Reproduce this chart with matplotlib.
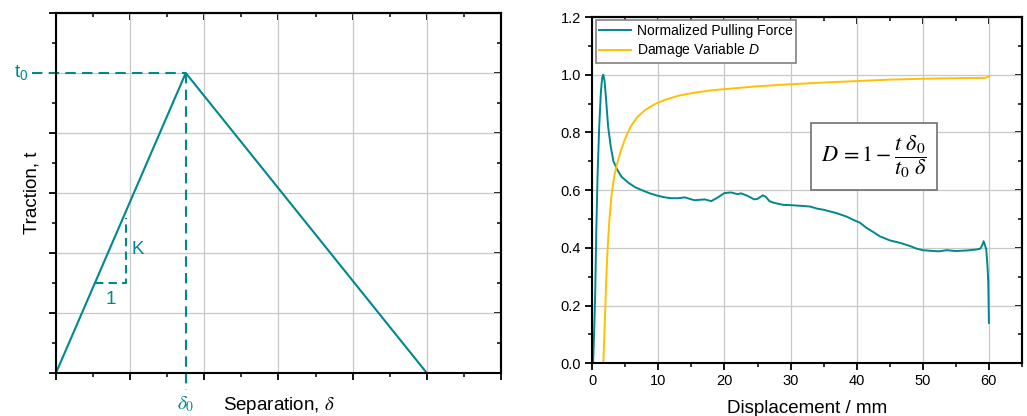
import matplotlib.pyplot as plt
from matplotlib.ticker import MultipleLocator, NullFormatter

plt.rcParams['font.family'] = ['Liberation Sans', 'DejaVu Sans']
plt.rcParams['mathtext.fontset'] = 'custom'
plt.rcParams['mathtext.rm'] = 'Liberation Sans'
plt.rcParams['mathtext.it'] = 'Liberation Sans:italic'

teal = '#00888c'
gold = '#ffc000'
grid_col = '#c8c8c8'

# bilinear traction-separation law (arbitrary units)
law_sep = [0, 1.75, 5]
law_trac = [0, 5, 0]
delta0, t0 = 1.75, 5

# measured normalized pulling force vs displacement (mm)
force_x = [0.12, 0.3, 0.45, 0.6, 0.8, 1.05, 1.3, 1.5, 1.66, 1.85, 2.0, 2.4, 2.8, 3.2,
           3.8, 4.4, 5.5, 6.5, 7.5, 8.7, 10, 11, 12, 13, 14, 15, 15.5, 16.5, 17, 18,
           19, 20, 21, 22, 22.5, 23.5, 24.5, 25, 25.8, 26.2, 26.8, 27.5, 28.9, 30,
           32, 33, 34, 35, 37, 38.5, 39.5, 40.5, 41.5, 42.5, 43.5, 45, 46.6, 48,
           49.1, 50, 51.6, 52.5, 53.6, 55, 56.7, 58, 58.7, 59.0, 59.2, 59.4, 59.6,
           59.8, 59.9, 60]
force_y = [0, 0.12, 0.25, 0.45, 0.65, 0.82, 0.94, 0.99, 1.0, 0.98, 0.94, 0.82, 0.75,
           0.70, 0.67, 0.647, 0.625, 0.61, 0.60, 0.589, 0.58, 0.575, 0.572, 0.572,
           0.575, 0.568, 0.565, 0.567, 0.568, 0.562, 0.575, 0.59, 0.592, 0.586,
           0.589, 0.58, 0.568, 0.57, 0.582, 0.578, 0.562, 0.556, 0.549, 0.548, 0.545,
           0.543, 0.536, 0.532, 0.52, 0.508, 0.497, 0.487, 0.469, 0.455, 0.44, 0.426,
           0.417, 0.407, 0.397, 0.392, 0.389, 0.388, 0.392, 0.389, 0.391, 0.394,
           0.397, 0.41, 0.423, 0.41, 0.394, 0.33, 0.28, 0.14]

# damage variable D vs displacement (mm)
damage_x = [1.67, 1.8, 1.95, 2.1, 2.3, 2.6, 2.9, 3.3, 3.7, 4.3, 5.0, 5.8, 6.8, 8, 9.6,
            11, 13, 15.5, 18, 20, 25, 30, 35, 40, 45, 50, 55, 59.5, 60]
damage_y = [0, 0.08, 0.18, 0.28, 0.39, 0.5, 0.58, 0.645, 0.687, 0.735, 0.78, 0.82,
            0.853, 0.878, 0.9, 0.913, 0.927, 0.938, 0.946, 0.95, 0.96, 0.967, 0.973,
            0.978, 0.983, 0.986, 0.988, 0.989, 0.995]

fig = plt.figure(figsize=(10.27, 4.16), dpi=100)
ax1 = fig.add_axes([0.0545, 0.1034, 0.4333, 0.8654])
ax2 = fig.add_axes([0.5767, 0.1267, 0.4184, 0.8324])


def style_axes(ax, xmaj, xmin, ymaj, ymin, labels=True):
    ax.xaxis.set_major_locator(MultipleLocator(xmaj))
    ax.xaxis.set_minor_locator(MultipleLocator(xmin))
    ax.yaxis.set_major_locator(MultipleLocator(ymaj))
    ax.yaxis.set_minor_locator(MultipleLocator(ymin))
    ax.grid(True, which='major', color=grid_col, lw=0.9)
    ax.set_axisbelow(True)
    for s in ax.spines.values():
        s.set_linewidth(1.5)
    ax.tick_params(which='major', direction='out', length=5, width=1.3,
                   labelsize=10.5, pad=3)
    ax.tick_params(which='minor', direction='out', length=3, width=1.1)
    if not labels:
        ax.xaxis.set_major_formatter(NullFormatter())
        ax.yaxis.set_major_formatter(NullFormatter())
    # mirrored inward ticks on top and right
    top = ax.secondary_xaxis('top')
    right = ax.secondary_yaxis('right')
    for sec, axis in ((top, top.xaxis), (right, right.yaxis)):
        axis.set_major_locator(MultipleLocator(xmaj if sec is top else ymaj))
        axis.set_minor_locator(MultipleLocator(xmin if sec is top else ymin))
        axis.set_major_formatter(NullFormatter())
        sec.tick_params(which='major', direction='in', length=5, width=1.3)
        sec.tick_params(which='minor', direction='in', length=3, width=1.1)
        for s in sec.spines.values():
            s.set_linewidth(1.5)


# left: traction-separation sketch
ax1.plot(law_sep, law_trac, color=teal, lw=1.5)
ax1.plot([-0.32, delta0], [t0, t0], color=teal, lw=1.5, ls=(0, (5, 3)),
         clip_on=False)
ax1.plot([delta0, delta0], [t0, -0.28], color=teal, lw=1.5, ls=(0, (5, 3)),
         clip_on=False)
ax1.plot([0.525, 0.94, 0.94], [1.5, 1.5, 2.58], color=teal, lw=1.5,
         ls=(0, (4, 2.5)))
ax1.text(1.02, 2.05, 'K', color=teal, fontsize=13.5, ha='left', va='center')
ax1.text(0.74, 1.22, '1', color=teal, fontsize=13.5, ha='center', va='center')
ax1.text(-0.47, t0, r'$\mathregular{t_0}$', color=teal, fontsize=14,
         ha='center', va='center')
ax1.text(delta0, -0.52, r'$\delta_0$', color=teal, fontsize=14,
         ha='center', va='center', math_fontfamily='stix')
ax1.set_xlim(0, 6)
ax1.set_ylim(0, 6)
style_axes(ax1, 1, 0.5, 1, 0.5, labels=False)
ax1.set_xlabel(r'Separation, $\delta$', fontsize=13.5, labelpad=8,
               math_fontfamily='stix')
ax1.set_ylabel('Traction, t', fontsize=13.5, labelpad=3)

# right: measured force and damage
ax2.plot(force_x, force_y, color=teal, lw=1.4, label='Normalized Pulling Force')
ax2.plot(damage_x, damage_y, color=gold, lw=1.4,
         label=r'Damage Variable $\mathit{D}$')
ax2.set_xlim(0, 65)
ax2.set_ylim(0, 1.2)
style_axes(ax2, 10, 5, 0.2, 0.1)
ax2.set_xticks([0, 10, 20, 30, 40, 50, 60])
ax2.yaxis.set_major_formatter(plt.FormatStrFormatter('%.1f'))
ax2.set_xlabel('Displacement / mm', fontsize=13.5, labelpad=8)
leg = ax2.legend(loc='upper left', fontsize=10, fancybox=False, framealpha=1,
                 edgecolor='#808080', borderaxespad=0.25, borderpad=0.25,
                 labelspacing=0.25, handlelength=2.3, handletextpad=0.4)
leg.get_frame().set_linewidth(1.2)
ax2.text(42.6, 0.715, r'$D\,=1-\dfrac{t\ \delta_0}{t_0\ \delta}$', fontsize=16,
         ha='center', va='center', math_fontfamily='stix',
         bbox=dict(boxstyle='square,pad=0.45', fc='white', ec='#707070', lw=1.2))

fig.savefig('out.png', dpi=100)
